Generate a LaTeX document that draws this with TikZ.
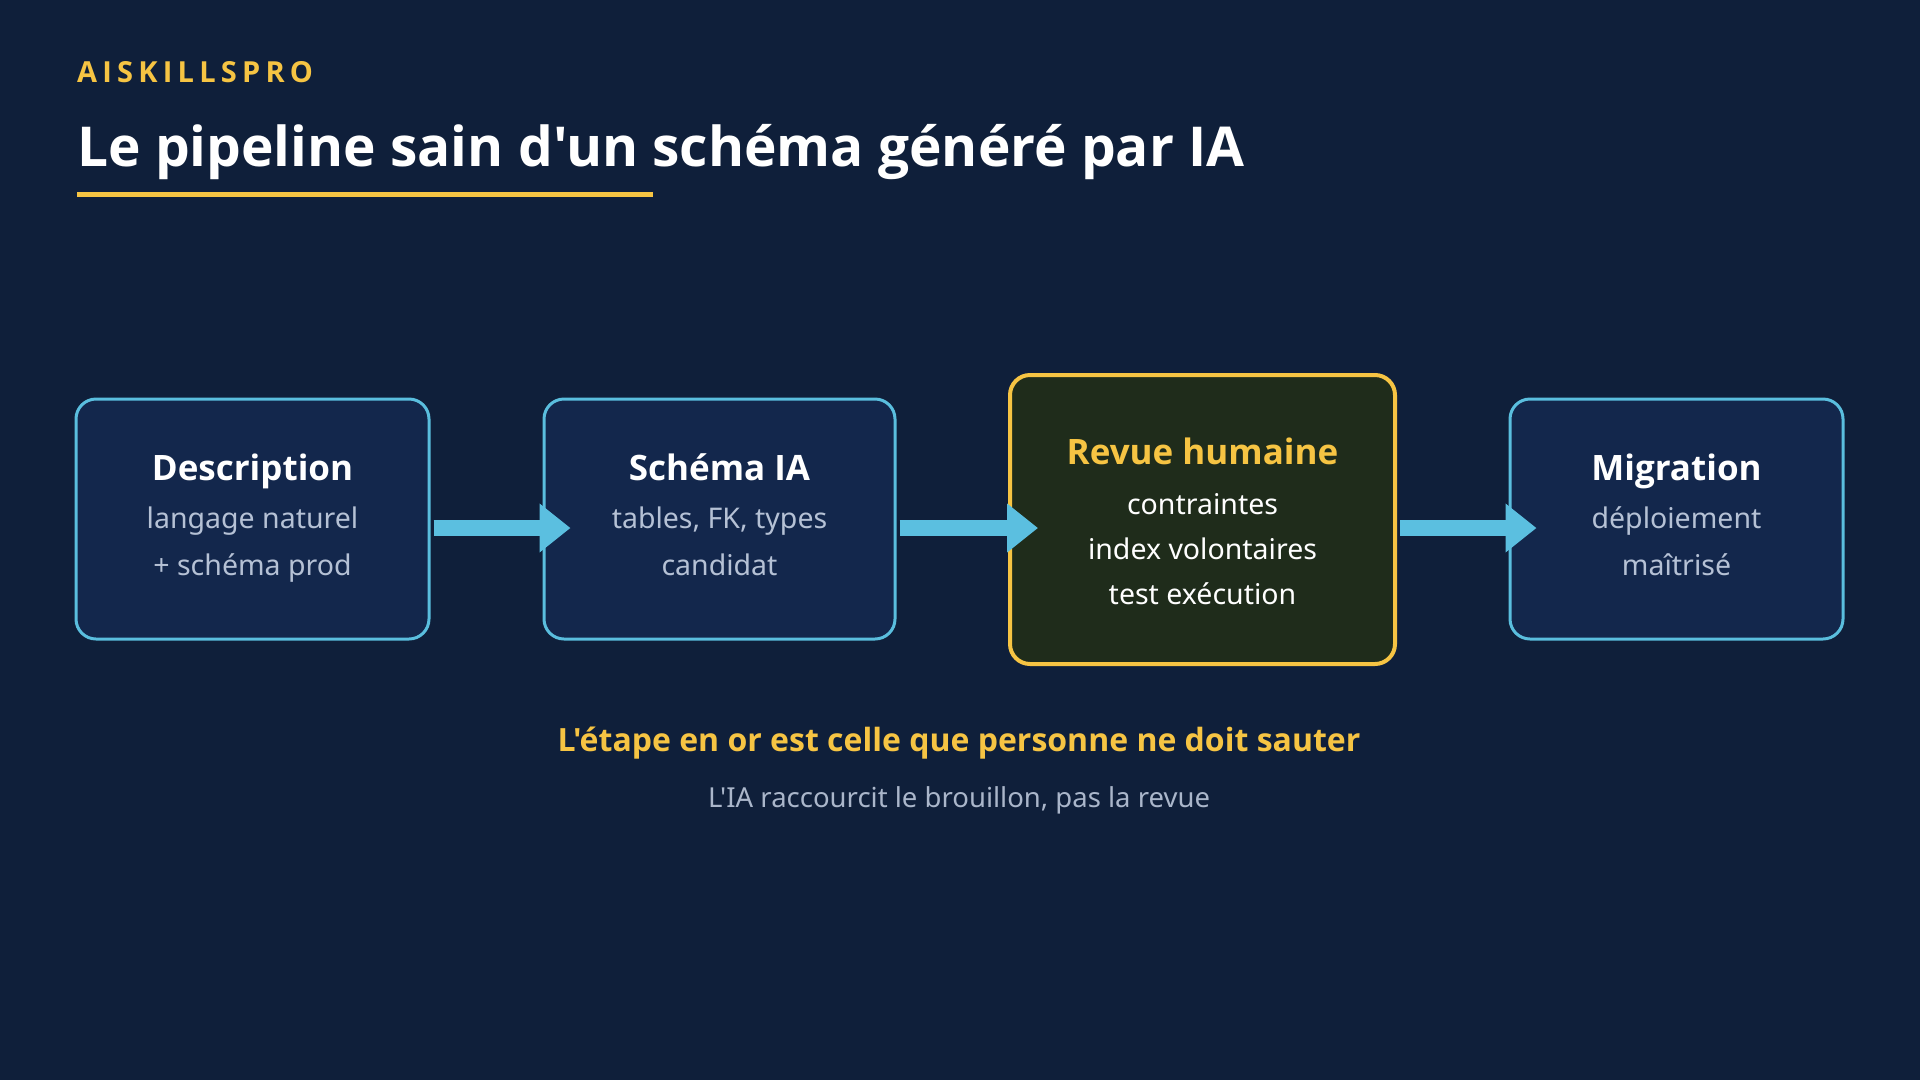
\documentclass[tikz,border=0pt]{standalone}
\usepackage{fontspec}
\setmainfont{Noto Sans}[Ligatures=TeXOff]
\newfontfamily\headfont{Open Sans}[Ligatures=TeXOff]
\newfontfamily\brandfont{Open Sans}[LetterSpace=18,Ligatures=TeXOff]
\usetikzlibrary{arrows.meta}

\definecolor{bgcol}{HTML}{0F1F3A}
\definecolor{boxfill}{HTML}{13274C}
\definecolor{boxline}{HTML}{5ABEDE}
\definecolor{arrowcol}{HTML}{5BBFE0}
\definecolor{gold}{HTML}{F6C443}
\definecolor{goldfill}{HTML}{1F2C1B}
\definecolor{subgray}{HTML}{B5C1D5}
\definecolor{notegray}{HTML}{AAB6CA}

\tikzset{
  stage/.style={draw=boxline, line width=3pt, fill=boxfill, rounded corners=20pt},
  gate/.style={draw=gold, line width=4pt, fill=goldfill, rounded corners=20pt},
  flow/.style={arrowcol, line width=16pt, -{Triangle[length=31pt,width=47pt]}},
  ttl/.style={anchor=base, inner sep=0pt, text=white, font=\headfont\bfseries\fontsize{35}{40}\selectfont},
  sub/.style={anchor=base, inner sep=0pt, text=subgray, font=\fontsize{28.5}{34}\selectfont},
}

\begin{document}
\begin{tikzpicture}[x=1pt,y=-1pt]
  \fill[bgcol] (0,0) rectangle (1920,1080);
  % header
  \node[anchor=base west, inner sep=0pt, text=gold, font=\brandfont\bfseries\fontsize{29}{34}\selectfont] (brand) at (77,82) {AISKILLSPRO};
  \node[anchor=base west, inner sep=0pt, text=white, font=\headfont\bfseries\fontsize{55}{64}\selectfont] (title) at (77,166) {Le pipeline sain d'un schéma généré par IA};
  \draw[gold, line width=5pt] (77,194) -- (653,194);

  % the three blue stages
  \foreach \n/\x/\w/\t/\a/\b in {desc/252.5/353/Description/langage naturel/+ schéma prod,
                                 schema/719.5/351/Schéma IA/{tables, FK, types}/candidat,
                                 migr/1676.5/333/Migration/déploiement/maîtrisé}{
    \node[stage, minimum width=\w pt, minimum height=240pt] (\n) at (\x,519) {};
    \node[ttl] (\n-t) at ([yshift=39pt]\n.center) {\t};
    \node[sub] (\n-a) at ([yshift=-9pt]\n.center) {\a};
    \node[sub] (\n-b) at ([yshift=-56pt]\n.center) {\b};
  }

  % the gold stage
  \node[gate, minimum width=385pt, minimum height=289pt] (revue) at (1202.5,519.5) {};
  \node[ttl, text=gold] (revue-t) at ([yshift=55.5pt]revue.center) {Revue humaine};
  \node[sub, text=white] (revue-a) at ([yshift=5.5pt]revue.center) {contraintes};
  \node[sub, text=white] (revue-b) at ([yshift=-39.5pt]revue.center) {index volontaires};
  \node[sub, text=white] (revue-c) at ([yshift=-84.5pt]revue.center) {test exécution};

  % arrows
  \draw[flow] ([xshift=3pt,yshift=-9pt]desc.east) -- ([xshift=28pt,yshift=-9pt]schema.west);
  \draw[flow] ([xshift=3pt,yshift=-9pt]schema.east) -- ([xshift=30pt,yshift=-8.5pt]revue.west);
  \draw[flow] ([xshift=3pt,yshift=-8.5pt]revue.east) -- ([xshift=28pt,yshift=-9pt]migr.west);

  % footer
  \node[anchor=base, inner sep=0pt, text=gold, font=\headfont\bfseries\fontsize{32}{38}\selectfont] (note) at (959,751) {L'étape en or est celle que personne ne doit sauter};
  \node[anchor=base, inner sep=0pt, text=notegray, font=\fontsize{27.5}{32}\selectfont] (hint) at (959,807) {L'IA raccourcit le brouillon, pas la revue};
\end{tikzpicture}
\end{document}
